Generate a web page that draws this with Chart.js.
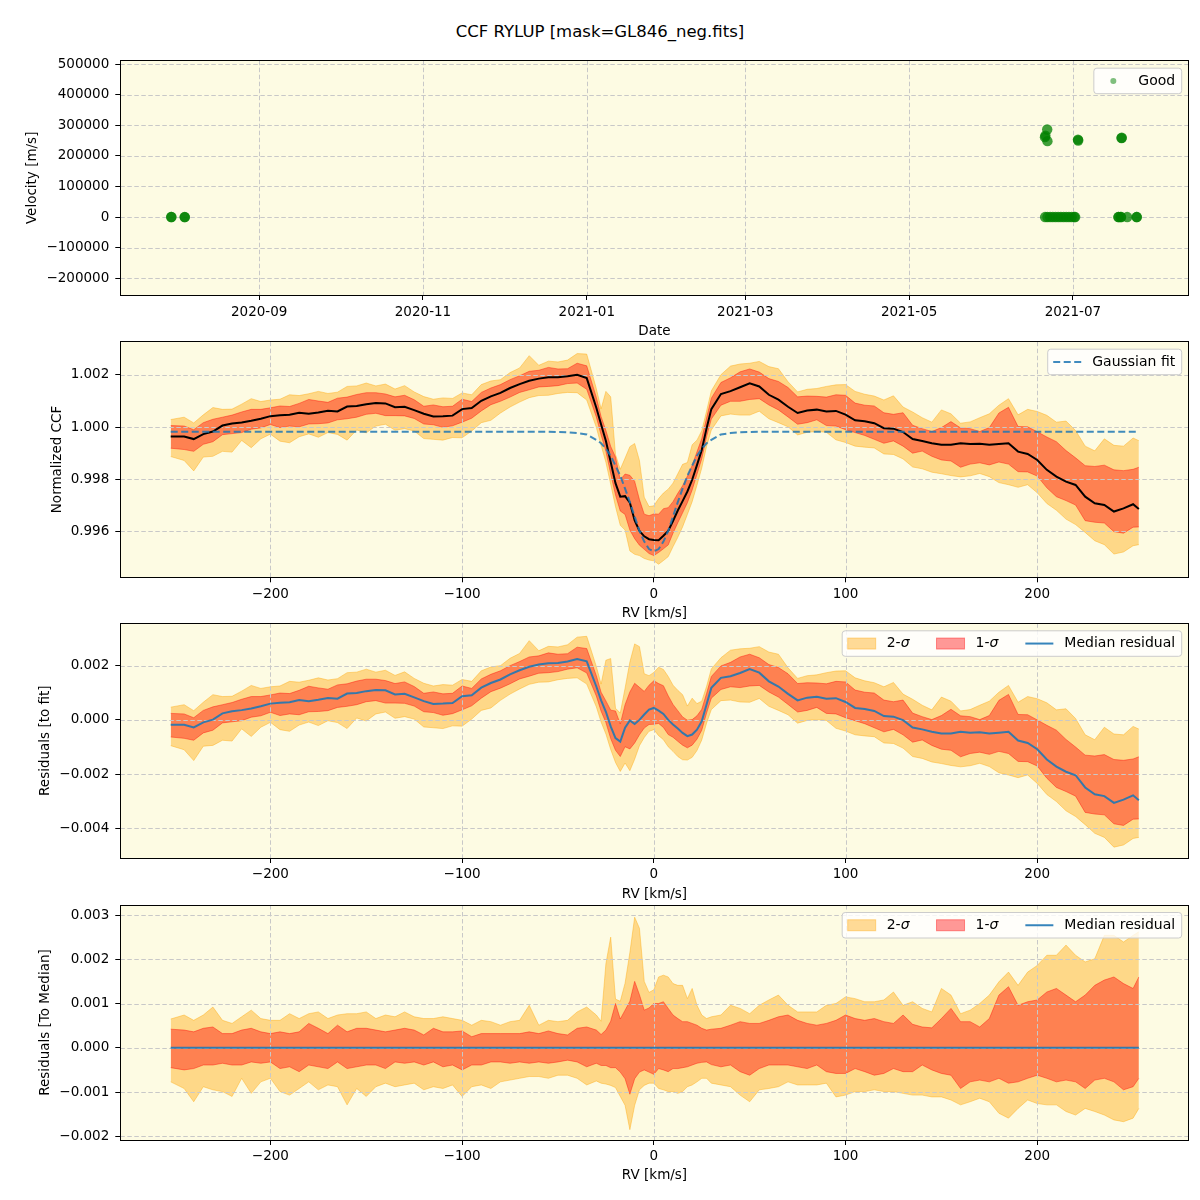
<!DOCTYPE html>
<html>
<head>
<meta charset="utf-8">
<title>CCF RYLUP</title>
<script src="https://cdn.jsdelivr.net/npm/chart.js@4.4.0/dist/chart.umd.min.js"></script>
<style>
  body { margin: 0; background: #fff; width: 1200px; height: 1200px; position: relative; overflow: hidden; font-family: "DejaVu Sans", sans-serif; }
  #title { position: absolute; top: 22px; left: 0; width: 1200px; line-height: 20px; text-align: center; font-size: 16.5px; color: #000; }
  canvas { position: absolute; left: 0; }
</style>
</head>
<body>
<div id="title">CCF RYLUP [mask=GL846_neg.fits]</div>
<canvas id="c1" width="1200" height="295" style="top:45px"></canvas>
<canvas id="c2" width="1200" height="284" style="top:338px"></canvas>
<canvas id="c3" width="1200" height="283" style="top:620px"></canvas>
<canvas id="c4" width="1200" height="300" style="top:900px"></canvas>
<script>
// ---- panel 1: velocity per observation ----
const obsDates = [
  '2020-07-30T06:00Z', '2020-07-30T08:00Z', '2020-08-04T06:00Z', '2020-08-04T08:00Z',
  '2021-06-20T15:00Z', '2021-06-21T12:00Z', '2021-06-22T12:00Z', '2021-06-23T12:00Z',
  '2021-06-24T12:00Z', '2021-06-25T12:00Z', '2021-06-26T12:00Z', '2021-06-27T12:00Z',
  '2021-06-28T12:00Z', '2021-06-29T12:00Z', '2021-06-30T12:00Z', '2021-07-01T12:00Z',
  '2021-07-01T20:00Z', '2021-06-20T14:00Z', '2021-06-20T18:00Z', '2021-06-21T10:00Z',
  '2021-06-21T12:00Z', '2021-07-02T21:00Z', '2021-07-02T23:00Z', '2021-07-19T02:00Z',
  '2021-07-19T04:00Z', '2021-07-17T22:00Z', '2021-07-18T00:00Z', '2021-07-18T20:00Z',
  '2021-07-18T22:00Z', '2021-07-21T05:00Z', '2021-07-24T17:00Z', '2021-07-24T19:00Z'
];
const obsVel = [
  0, 300, 0, -200,
  0, 0, 0, 0,
  0, 0, 0, 0,
  0, 0, 0, 0,
  0, 261000, 266000, 286000,
  248000, 253000, 250000, 258000,
  259000, 0, 0, 0,
  0, 0, 0, 0
];
const dateTicks = ['2020-09-01', '2020-11-01', '2021-01-01', '2021-03-01', '2021-05-01', '2021-07-01'];
const velTicks = [-200000, -100000, 0, 100000, 200000, 300000, 400000, 500000];

// ---- CCF profiles vs RV [km/s] ----
const rv = [
  -252, -245, -240, -235, -230, -225, -220, -215, -210, -205,
  -200, -195, -190, -185, -180, -175, -170, -165, -160, -155,
  -150, -145, -140, -135, -130, -125, -120, -115, -110, -105,
  -100, -95, -90, -85, -80, -75, -70, -65, -60, -55,
  -50, -45, -40, -35,
  -30, -27.5, -25, -22.5, -20, -17.5, -15, -12.5, -10, -7.5, -5, -2.5, 0,
  2.5, 5, 7.5, 10, 12.5, 15, 17.5, 20, 22.5, 25, 27.5, 30,
  35, 40, 45, 50, 55, 60, 65, 70, 75, 80,
  85, 90, 95, 100, 105, 110, 115, 120, 125, 130,
  135, 140, 145, 150, 155, 160, 165, 170, 175, 180,
  185, 190, 195, 200, 205, 210, 215, 220, 225, 230,
  235, 240, 245, 250, 253
];
const ccfMedian = [
  0.99964, 0.99964, 0.99954, 0.99973, 0.99983, 1.00006, 1.00014, 1.00018, 1.00024, 1.00032,
  1.00042, 1.00045, 1.00047, 1.00055, 1.00051, 1.00056, 1.00063, 1.00060, 1.00079, 1.00081,
  1.00088, 1.00092, 1.00091, 1.00076, 1.00078, 1.00065, 1.00051, 1.00041, 1.00042, 1.00044,
  1.00069, 1.00073, 1.00101, 1.00118, 1.00131, 1.00150, 1.00165, 1.00178, 1.00186, 1.00191,
  1.00191, 1.00195, 1.00201, 1.00188,
  1.00074, 1.00010, 0.99947, 0.99866, 0.99785, 0.99733, 0.99735, 0.99710, 0.99642, 0.99602, 0.99581, 0.99570, 0.99567,
  0.99566, 0.99583, 0.99602, 0.99640, 0.99680, 0.99716, 0.99753, 0.99798, 0.99854, 0.99912, 0.99995, 1.00069,
  1.00127, 1.00138, 1.00153, 1.00168, 1.00156, 1.00124, 1.00105, 1.00078, 1.00054, 1.00064,
  1.00067, 1.00060, 1.00062, 1.00048, 1.00026, 1.00022, 1.00015, 0.99996, 0.99994, 0.99981,
  0.99954, 0.99947, 0.99938, 0.99932, 0.99932, 0.99938, 0.99935, 0.99936, 0.99932, 0.99935,
  0.99938, 0.99906, 0.99897, 0.99874, 0.99836, 0.99810, 0.99791, 0.99778, 0.99733, 0.99708,
  0.99701, 0.99676, 0.99688, 0.99704, 0.99686
];
const gaussFit = [
  0.99982, 0.99982, 0.99982, 0.99982, 0.99982, 0.99982, 0.99982, 0.99982, 0.99982, 0.99982,
  0.99982, 0.99982, 0.99982, 0.99982, 0.99982, 0.99982, 0.99982, 0.99982, 0.99982, 0.99982,
  0.99982, 0.99982, 0.99982, 0.99982, 0.99982, 0.99982, 0.99982, 0.99982, 0.99982, 0.99982,
  0.99982, 0.99982, 0.99982, 0.99982, 0.99982, 0.99982, 0.99982, 0.99982, 0.99982, 0.99982,
  0.99981, 0.99980, 0.99977, 0.99972,
  0.99951, 0.99938, 0.99917, 0.99890, 0.99852, 0.99813, 0.99764, 0.99712, 0.99657, 0.99602, 0.99561, 0.99532, 0.99523,
  0.99532, 0.99561, 0.99602, 0.99657, 0.99712, 0.99764, 0.99813, 0.99852, 0.99890, 0.99917, 0.99938, 0.99951,
  0.99972, 0.99977, 0.99980, 0.99981, 0.99982, 0.99982, 0.99982, 0.99982, 0.99982, 0.99982,
  0.99982, 0.99982, 0.99982, 0.99982, 0.99982, 0.99982, 0.99982, 0.99982, 0.99982, 0.99982,
  0.99982, 0.99982, 0.99982, 0.99982, 0.99982, 0.99982, 0.99982, 0.99982, 0.99982, 0.99982,
  0.99982, 0.99982, 0.99982, 0.99982, 0.99982, 0.99982, 0.99982, 0.99982, 0.99982, 0.99982,
  0.99982, 0.99982, 0.99982, 0.99982, 0.99982
];
// spread of the CCFs around the median (2-sigma / 1-sigma upper and lower)
const hi2 = [
  0.00065, 0.00074, 0.00062, 0.00074, 0.00092, 0.00062, 0.00055, 0.00070, 0.00085, 0.00066,
  0.00062, 0.00062, 0.00077, 0.00066, 0.00077, 0.00081, 0.00066, 0.00074, 0.00077, 0.00077,
  0.00081, 0.00066, 0.00074, 0.00070, 0.00081, 0.00070, 0.00066, 0.00066, 0.00070, 0.00066,
  0.00062, 0.00051, 0.00062, 0.00059, 0.00051, 0.00059, 0.00062, 0.00096, 0.00051, 0.00062,
  0.00059, 0.00062, 0.00081, 0.00092,
  0.00074, 0.00060, 0.00190, 0.00250, 0.00110, 0.00105, 0.00146, 0.00215, 0.00295, 0.00270, 0.00150, 0.00125, 0.00131,
  0.00160, 0.00164, 0.00160, 0.00145, 0.00141, 0.00141, 0.00111, 0.00134, 0.00096, 0.00074, 0.00066, 0.00070,
  0.00074, 0.00096, 0.00089, 0.00077, 0.00096, 0.00108, 0.00119, 0.00096, 0.00081, 0.00081,
  0.00081, 0.00096, 0.00100, 0.00115, 0.00111, 0.00104, 0.00104, 0.00108, 0.00126, 0.00096,
  0.00104, 0.00089, 0.00081, 0.00134, 0.00119, 0.00077, 0.00085, 0.00100, 0.00119, 0.00149,
  0.00171, 0.00141, 0.00171, 0.00186, 0.00209, 0.00209, 0.00232, 0.00209, 0.00194, 0.00201,
  0.00254, 0.00254, 0.00239, 0.00254, 0.00262
];
const hi1 = [
  0.00042, 0.00040, 0.00036, 0.00044, 0.00047, 0.00032, 0.00032, 0.00040, 0.00044, 0.00036,
  0.00032, 0.00036, 0.00032, 0.00036, 0.00055, 0.00044, 0.00032, 0.00051, 0.00036, 0.00044,
  0.00044, 0.00040, 0.00036, 0.00040, 0.00044, 0.00040, 0.00029, 0.00044, 0.00036, 0.00036,
  0.00038, 0.00025, 0.00032, 0.00032, 0.00032, 0.00032, 0.00032, 0.00036, 0.00032, 0.00038,
  0.00032, 0.00029, 0.00044, 0.00047,
  0.00040, 0.00030, 0.00040, 0.00060, 0.00100, 0.00065, 0.00085, 0.00105, 0.00150, 0.00120, 0.00085, 0.00090, 0.00100,
  0.00100, 0.00104, 0.00089, 0.00074, 0.00066, 0.00059, 0.00059, 0.00055, 0.00051, 0.00044, 0.00040, 0.00042,
  0.00044, 0.00051, 0.00059, 0.00055, 0.00055, 0.00062, 0.00070, 0.00074, 0.00062, 0.00055,
  0.00051, 0.00055, 0.00062, 0.00074, 0.00066, 0.00062, 0.00066, 0.00059, 0.00055, 0.00074,
  0.00053, 0.00047, 0.00045, 0.00066, 0.00089, 0.00059, 0.00059, 0.00047, 0.00066, 0.00119,
  0.00138, 0.00096, 0.00104, 0.00108, 0.00126, 0.00134, 0.00119, 0.00104, 0.00119, 0.00141,
  0.00153, 0.00160, 0.00145, 0.00134, 0.00160
];
const lo1 = [
  -0.00045, -0.00050, -0.00047, -0.00039, -0.00039, -0.00035, -0.00039, -0.00039, -0.00032, -0.00035,
  -0.00032, -0.00047, -0.00043, -0.00054, -0.00039, -0.00043, -0.00047, -0.00032, -0.00047, -0.00043,
  -0.00039, -0.00039, -0.00047, -0.00032, -0.00035, -0.00032, -0.00039, -0.00032, -0.00043, -0.00039,
  -0.00050, -0.00039, -0.00039, -0.00032, -0.00032, -0.00035, -0.00032, -0.00035, -0.00032, -0.00035,
  -0.00032, -0.00028, -0.00032, -0.00043,
  -0.00035, -0.00040, -0.00040, -0.00045, -0.00045, -0.00055, -0.00070, -0.00105, -0.00070, -0.00055, -0.00050, -0.00055, -0.00060,
  -0.00047, -0.00050, -0.00054, -0.00047, -0.00047, -0.00045, -0.00043, -0.00039, -0.00035, -0.00033, -0.00032, -0.00038,
  -0.00043, -0.00039, -0.00054, -0.00062, -0.00047, -0.00039, -0.00039, -0.00039, -0.00043, -0.00047,
  -0.00039, -0.00054, -0.00058, -0.00058, -0.00047, -0.00054, -0.00062, -0.00058, -0.00047, -0.00054,
  -0.00054, -0.00039, -0.00050, -0.00058, -0.00062, -0.00092, -0.00077, -0.00073, -0.00077, -0.00069,
  -0.00080, -0.00077, -0.00069, -0.00062, -0.00069, -0.00077, -0.00073, -0.00077, -0.00092, -0.00073,
  -0.00069, -0.00077, -0.00095, -0.00088, -0.00069
];
const lo2 = [
  -0.00077, -0.00092, -0.00122, -0.00088, -0.00095, -0.00099, -0.00110, -0.00069, -0.00103, -0.00077,
  -0.00069, -0.00099, -0.00107, -0.00092, -0.00077, -0.00095, -0.00084, -0.00088, -0.00129, -0.00092,
  -0.00110, -0.00088, -0.00080, -0.00088, -0.00084, -0.00080, -0.00095, -0.00088, -0.00092, -0.00084,
  -0.00110, -0.00088, -0.00084, -0.00092, -0.00077, -0.00073, -0.00069, -0.00065, -0.00065, -0.00069,
  -0.00062, -0.00062, -0.00069, -0.00084,
  -0.00075, -0.00080, -0.00082, -0.00085, -0.00090, -0.00110, -0.00130, -0.00185, -0.00130, -0.00095, -0.00085, -0.00080, -0.00080,
  -0.00092, -0.00095, -0.00099, -0.00099, -0.00103, -0.00099, -0.00088, -0.00084, -0.00077, -0.00069, -0.00069, -0.00080,
  -0.00084, -0.00088, -0.00107, -0.00122, -0.00095, -0.00092, -0.00088, -0.00077, -0.00084, -0.00084,
  -0.00084, -0.00080, -0.00111, -0.00107, -0.00099, -0.00099, -0.00095, -0.00099, -0.00099, -0.00103,
  -0.00107, -0.00107, -0.00111, -0.00111, -0.00118, -0.00129, -0.00122, -0.00114, -0.00122, -0.00148,
  -0.00159, -0.00137, -0.00118, -0.00126, -0.00129, -0.00129, -0.00144, -0.00152, -0.00137, -0.00144,
  -0.00152, -0.00163, -0.00167, -0.00159, -0.00137
];
const rvTicks = [-200, -100, 0, 100, 200];
const ccfTicks = [0.996, 0.998, 1.000, 1.002];
const fitResTicks = [-0.004, -0.002, 0, 0.002];
const medResTicks = [-0.002, -0.001, 0, 0.001, 0.002, 0.003];

// ---- styling ----
const PLOT_BG = '#fdfbe3';
const GRID = '#c8c8c8';
const ORANGE = 'rgba(255,165,0,0.4)';
const RED = 'rgba(255,0,0,0.4)';
const BLUE = 'rgba(31,119,180,0.9)';
const FONT = '"DejaVu Sans", sans-serif';

Chart.defaults.font.family = FONT;
Chart.defaults.font.size = 13.5;
Chart.defaults.color = '#000';

const day = s => Date.parse(s) / 86400000;
const minus = (v, d) => (v < -1e-12 ? '\u2212' : '') + Math.abs(v).toFixed(d);
const add = (a, b) => a.map((v, i) => v + b[i]);
const sub = (a, b) => a.map((v, i) => v - b[i]);
const pts = arr => rv.map((x, i) => ({ x, y: arr[i] }));

const legends = {};
const gridAfter = {};   // dataset index after which the grid goes (fills below, lines above)

function runsWidth(ctx, runs) {
  let w = 0;
  runs.forEach(r => {
    ctx.font = (r.it ? 'italic ' : '') + '14px ' + FONT;
    w += ctx.measureText(r.t).width;
  });
  return w;
}

function drawLegend(chart, items) {
  const { ctx, chartArea: a } = chart;
  const pad = 6, handle = 28, gap = 11, colSpace = 27, h = 25.5;
  const widths = items.map(it => runsWidth(ctx, it.label));
  let w = pad * 2 + colSpace * (items.length - 1);
  widths.forEach(tw => { w += handle + gap + tw; });
  const right = a.right - 7.5, top = a.top + 7, left = right - w;
  ctx.save();
  ctx.beginPath();
  ctx.roundRect(left + 0.5, top + 0.5, w, h, 3);
  ctx.fillStyle = 'rgba(255,255,255,0.8)';
  ctx.fill();
  ctx.strokeStyle = '#cccccc';
  ctx.lineWidth = 1;
  ctx.stroke();
  const cy = top + h / 2 + 0.5;
  let x = left + pad;
  items.forEach((it, i) => {
    if (it.kind === 'patch') {
      ctx.fillStyle = it.color;
      ctx.fillRect(x, cy - 5.5, handle, 11);
      ctx.strokeStyle = it.color;
      ctx.strokeRect(x, cy - 5.5, handle, 11);
    } else if (it.kind === 'line') {
      ctx.strokeStyle = it.color;
      ctx.lineWidth = 2;
      ctx.setLineDash(it.dash || []);
      ctx.beginPath();
      ctx.moveTo(x, cy);
      ctx.lineTo(x + handle, cy);
      ctx.stroke();
      ctx.setLineDash([]);
    } else {
      ctx.fillStyle = it.color;
      ctx.beginPath();
      ctx.arc(x + handle / 2, cy, 3, 0, Math.PI * 2);
      ctx.fill();
    }
    let tx = x + handle + gap;
    ctx.fillStyle = '#000';
    ctx.textBaseline = 'middle';
    it.label.forEach(r => {
      ctx.font = (r.it ? 'italic ' : '') + '14px ' + FONT;
      ctx.fillText(r.t, tx, cy);
      tx += ctx.measureText(r.t).width;
    });
    x += handle + gap + widths[i] + colSpace;
  });
  ctx.restore();
}

function drawGrid(chart) {
  const { ctx, chartArea: a, scales } = chart;
  ctx.save();
  ctx.strokeStyle = GRID;
  ctx.lineWidth = 1;
  ctx.setLineDash([4.5, 2.5]);
  ctx.beginPath();
  scales.x.ticks.forEach(t => {
    const px = Math.round(scales.x.getPixelForValue(t.value)) + 0.5;
    ctx.moveTo(px, a.top);
    ctx.lineTo(px, a.bottom);
  });
  scales.y.ticks.forEach(t => {
    const py = Math.round(scales.y.getPixelForValue(t.value)) + 0.5;
    ctx.moveTo(a.left, py);
    ctx.lineTo(a.right, py);
  });
  ctx.stroke();
  ctx.restore();
}

const decor = {
  id: 'decor',
  beforeDraw(chart) {
    const { ctx, chartArea: a } = chart;
    ctx.save();
    ctx.fillStyle = PLOT_BG;
    ctx.fillRect(a.left, a.top, a.right - a.left, a.bottom - a.top);
    ctx.restore();
  },
  beforeDatasetsDraw(chart) {
    if (gridAfter[chart.canvas.id] === undefined) drawGrid(chart);
  },
  afterDatasetDraw(chart, args) {
    if (gridAfter[chart.canvas.id] === args.index) drawGrid(chart);
  },
  afterDraw(chart) {
    const { ctx, chartArea: a } = chart;
    ctx.save();
    ctx.strokeStyle = '#000';
    ctx.lineWidth = 1;
    const l = Math.floor(a.left) + 0.5, t = Math.floor(a.top) + 0.5;
    const r = Math.floor(a.right) + 0.5, b = Math.floor(a.bottom) + 0.5;
    ctx.strokeRect(l, t, r - l, b - t);
    ctx.restore();
    const items = legends[chart.canvas.id];
    if (items) drawLegend(chart, items);
  }
};

function axis(o) {
  return {
    type: 'linear',
    min: o.min,
    max: o.max,
    afterBuildTicks: s => { s.ticks = o.ticks.map(v => ({ value: v })); },
    afterFit: s => {
      if (o.width) s.width = o.width;
      if (o.height) s.height = o.height;
      s.paddingTop = 0; s.paddingBottom = 0; s.paddingLeft = 0; s.paddingRight = 0;
    },
    ticks: { callback: o.fmt, padding: o.tickPad, autoSkip: false, maxRotation: 0, minRotation: 0 },
    grid: { drawOnChartArea: false, tickLength: 5, tickColor: '#000', tickWidth: 1 },
    border: { display: false },
    title: { display: true, text: o.title, padding: o.titlePad }
  };
}

function makeChart(id, type, datasets, x, y, padTop, legend, afterIndex) {
  legends[id] = legend;
  if (afterIndex !== undefined) gridAfter[id] = afterIndex;
  return new Chart(document.getElementById(id), {
    type,
    data: { datasets },
    options: {
      responsive: false,
      animation: false,
      events: [],
      layout: { autoPadding: false, padding: { top: padTop, right: 11.3, bottom: 0, left: 0 } },
      plugins: { legend: { display: false }, tooltip: { enabled: false } },
      scales: { x, y }
    },
    plugins: [decor]
  });
}

function bandSets(lower2, upper2, lower1, upper1, mid, midColor) {
  const line = { pointRadius: 0, tension: 0 };
  return [
    { ...line, data: pts(lower2), borderColor: ORANGE, borderWidth: 1, fill: false, order: 5 },
    { ...line, data: pts(upper2), borderColor: ORANGE, backgroundColor: ORANGE, borderWidth: 1, fill: 0, order: 4 },
    { ...line, data: pts(lower1), borderColor: RED, borderWidth: 1, fill: false, order: 3 },
    { ...line, data: pts(upper1), borderColor: RED, backgroundColor: RED, borderWidth: 1, fill: 2, order: 2 },
    { ...line, data: pts(mid), borderColor: midColor, borderWidth: 2, fill: false, order: 1 }
  ];
}

const rvAxis = (h, pb) => axis({
  min: -278.3, max: 279, ticks: rvTicks, fmt: v => minus(v, 0), tickPad: 3.6,
  height: h, title: 'RV [km/s]', titlePad: { top: 0, bottom: pb }
});
const yAxis = (min, max, ticks, d, title, tp) => axis({
  min, max, ticks, fmt: v => minus(v, d), tickPad: 6, width: 120.3,
  title, titlePad: { top: tp, bottom: 0 }
});

const sigmaLegend = [
  { kind: 'patch', color: ORANGE, label: [{ t: '2-' }, { t: '\u03c3', it: true }] },
  { kind: 'patch', color: RED, label: [{ t: '1-' }, { t: '\u03c3', it: true }] },
  { kind: 'line', color: BLUE, label: [{ t: 'Median residual' }] }
];

// panel 1
const d0 = day(dateTicks[0]);
const dateTickDays = dateTicks.map(day);
makeChart('c1', 'scatter', [{
  data: obsDates.map((s, i) => ({ x: day(s), y: obsVel[i] })),
  backgroundColor: 'rgba(0,128,0,0.75)', borderWidth: 0, pointRadius: 5.2
}], axis({
  min: d0 - 51.7, max: d0 + 346.1, ticks: dateTickDays, fmt: (v, i) => dateTicks[i].slice(0, 7),
  tickPad: 4.6, height: 45, title: 'Date', titlePad: { top: 0, bottom: 0 }
}), yAxis(-254600, 510800, velTicks, 0, 'Velocity [m/s]', 23.9), 15.7,
  [{ kind: 'dot', color: 'rgba(0,128,0,0.5)', label: [{ t: 'Good' }] }]);

// panel 2
const ccfSets = bandSets(add(ccfMedian, lo2), add(ccfMedian, hi2), add(ccfMedian, lo1), add(ccfMedian, hi1), ccfMedian, '#000');
ccfSets.push({ data: pts(gaussFit), borderColor: 'rgba(31,119,180,0.85)', borderWidth: 2, borderDash: [7, 3.5], pointRadius: 0, fill: false, order: 0 });
makeChart('c2', 'line', ccfSets, rvAxis(44.7, 0),
  yAxis(0.994238, 1.003276, ccfTicks, 3, 'Normalized CCF', 48.9), 3.7,
  [{ kind: 'line', color: 'rgba(31,119,180,0.85)', dash: [7, 3.5], label: [{ t: 'Gaussian fit' }] }], 3);

// panel 3
const toFit = arr => sub(add(ccfMedian, arr), gaussFit);
makeChart('c3', 'line', bandSets(toFit(lo2), toFit(hi2), toFit(lo1), toFit(hi1), sub(ccfMedian, gaussFit), BLUE),
  rvAxis(45, 0), yAxis(-0.00509, 0.00356, fitResTicks, 3, 'Residuals [to fit]', 36.9), 3.3, sigmaLegend, 3);

// panel 4
makeChart('c4', 'line', bandSets(lo2, hi2, lo1, hi1, sub(ccfMedian, ccfMedian), BLUE),
  rvAxis(60, 16.9), yAxis(-0.002084, 0.003226, medResTicks, 3, 'Residuals [To Median]', 36.9), 5, sigmaLegend, 3);
</script>
</body>
</html>
